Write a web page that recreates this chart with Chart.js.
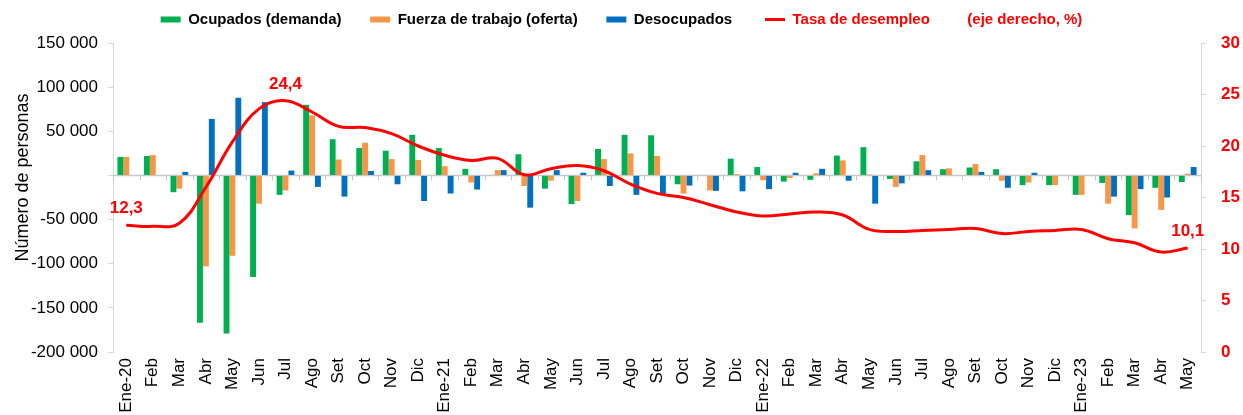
<!DOCTYPE html>
<html>
<head>
<meta charset="utf-8">
<script src="https://cdn.jsdelivr.net/npm/chart.js@4.4.1/dist/chart.umd.min.js"></script>
<style>
  html, body { margin: 0; padding: 0; background: #ffffff; }
  #wrap { width: 1243px; height: 415px; }
</style>
</head>
<body>
<div id="wrap"><canvas id="c" width="1243" height="415"></canvas></div>
<script>
const categories = ['Ene-20','Feb','Mar','Abr','May','Jun','Jul','Ago','Set','Oct','Nov','Dic',
  'Ene-21','Feb','Mar','Abr','May','Jun','Jul','Ago','Set','Oct','Nov','Dic',
  'Ene-22','Feb','Mar','Abr','May','Jun','Jul','Ago','Set','Oct','Nov','Dic',
  'Ene-23','Feb','Mar','Abr','May'];

const ocupados = [21000, 22000, -19000, -167000, -179000, -115000, -22000, 80000, 41000, 31000,
  28000, 46000, 31000, 7500, 500, 24000, -15000, -32500, 30000, 46000,
  45500, -10000, 0, 19000, 9500, -7000, -5000, 22500, 32000, -4000,
  16000, 7000, 9000, 7000, -11000, -11000, -22000, -8500, -45000, -14000, -7500];

const fuerzaTrabajo = [21000, 23000, -15000, -103000, -91000, -32000, -17000, 68000, 18000, 37000,
  18500, 17500, 10500, -8000, 6000, -12000, -6000, -29000, 18500, 25000,
  22000, -20500, -17000, 1500, -5500, -3000, 2500, 17000, 1000, -13000,
  23000, 8000, 13000, -6000, -8000, -11000, -22000, -32000, -60000, -39000, 2000];

const desocupados = [0, 0, 4000, 64000, 88000, 83000, 5500, -13000, -24000, 5000,
  -10000, -29000, -20500, -16000, 6000, -36500, 6000, 3000, -12000, -22000,
  -22500, -11500, -17500, -18000, -15500, 3000, 7500, -6000, -32000, -9000,
  6000, 0, 4000, -14000, 3000, 0, 0, -24000, -15500, -25000, 9500];

const tasaDesempleo = [12.3, 12.2, 12.5, 16.0, 20.4, 23.6, 24.4, 23.3, 21.9, 21.8,
  21.2, 20.0, 19.1, 18.6, 18.8, 17.2, 17.8, 18.1, 17.6, 16.3,
  15.4, 15.0, 14.3, 13.6, 13.2, 13.4, 13.6, 13.3, 11.9, 11.7,
  11.8, 11.9, 12.0, 11.5, 11.7, 11.8, 11.9, 11.0, 10.6, 9.7, 10.1];

const leftTicks = { min: -200000, max: 150000, step: 50000 };
const rightTicks = { min: 0, max: 30, step: 5 };
const labelledPoints = [0, 6, 40]; // indices of the rate values that carry a label

const GREEN = '#00B050', ORANGE = '#F79646', BLUE = '#0070C0', RED = '#FF0000';
const AXIS_GREY = '#d9d9d9';
const NB = '\u00A0';
const sp = n => NB.repeat(n);

function fmtThousands(v) {
  if (v === 0) return '';
  const s = String(Math.abs(v)).replace(/\B(?=(\d{3})+(?!\d))/g, ' ');
  return (v < 0 ? '-' : '') + s;
}

const overlayPlugin = {
  id: 'overlay',
  beforeDatasetsDraw(chart) {
    const { ctx, chartArea, scales } = chart;
    const y0 = scales.y.getPixelForValue(0);
    ctx.save();
    ctx.strokeStyle = '#c8c8c8';
    ctx.lineWidth = 1.5;
    ctx.beginPath();
    ctx.moveTo(chartArea.left, y0);
    ctx.lineTo(chartArea.right, y0);
    ctx.stroke();
    // category boundary tick marks on the zero line
    ctx.lineWidth = 1;
    const xs = scales.x;
    const n = categories.length;
    const step = xs.getPixelForValue(1) - xs.getPixelForValue(0);
    for (let i = 0; i <= n; i++) {
      const x = (i < n ? xs.getPixelForValue(i) : xs.getPixelForValue(n - 1) + step) - step / 2;
      ctx.beginPath();
      ctx.moveTo(Math.round(x) + 0.5, y0);
      ctx.lineTo(Math.round(x) + 0.5, y0 + 5);
      ctx.stroke();
    }
    ctx.restore();
  },
  afterDatasetsDraw(chart) {
    const { ctx, scales } = chart;
    ctx.save();
    ctx.fillStyle = RED;
    ctx.font = 'bold 17px "Liberation Sans", Arial, sans-serif';
    ctx.textAlign = 'center';
    ctx.textBaseline = 'bottom';
    labelledPoints.forEach(i => {
      const x = scales.x.getPixelForValue(i);
      const y = scales.y2.getPixelForValue(tasaDesempleo[i]);
      ctx.fillText(tasaDesempleo[i].toFixed(1).replace('.', ','), x, y - 8);
    });
    ctx.restore();
  }
};

new Chart(document.getElementById('c'), {
  type: 'bar',
  data: {
    labels: categories,
    datasets: [
      { label: 'Ocupados (demanda)', data: ocupados, backgroundColor: GREEN, yAxisID: 'y', order: 1,
        categoryPercentage: 0.667, barPercentage: 1.0 },
      { label: 'Fuerza de trabajo (oferta)', data: fuerzaTrabajo, backgroundColor: ORANGE, yAxisID: 'y', order: 1,
        categoryPercentage: 0.667, barPercentage: 1.0 },
      { label: 'Desocupados', data: desocupados, backgroundColor: BLUE, yAxisID: 'y', order: 1,
        categoryPercentage: 0.667, barPercentage: 1.0 },
      { type: 'line', label: 'Tasa de desempleo', data: tasaDesempleo, borderColor: RED, backgroundColor: RED,
        borderWidth: 3, pointRadius: 0, tension: 0.4, yAxisID: 'y2', order: 0, fill: false }
    ]
  },
  options: {
    responsive: false,
    animation: false,
    devicePixelRatio: 1,
    layout: { padding: { top: 0, bottom: 0, left: 0, right: 0 } },
    plugins: {
      tooltip: { enabled: false },
      title: { display: true, text: '', weight: 500, padding: 0, font: { size: 6, lineHeight: 1 } },
      legend: {
        position: 'top',
        weight: 1000,
        labels: {
          usePointStyle: true,
          pointStyleWidth: 20,
          boxHeight: 6,
          padding: 12,
          font: { family: '"Liberation Sans", Arial, sans-serif', size: 15, weight: 'bold' },
          generateLabels() {
            return [
              { text: 'Ocupados (demanda)' + sp(4), fillStyle: GREEN, strokeStyle: GREEN, lineWidth: 0, pointStyle: 'rect', fontColor: '#000', datasetIndex: 0 },
              { text: 'Fuerza de trabajo (oferta)' + sp(4), fillStyle: ORANGE, strokeStyle: ORANGE, lineWidth: 0, pointStyle: 'rect', fontColor: '#000', datasetIndex: 1 },
              { text: 'Desocupados' + sp(5), fillStyle: BLUE, strokeStyle: BLUE, lineWidth: 0, pointStyle: 'rect', fontColor: '#000', datasetIndex: 2 },
              { text: 'Tasa de desempleo' + sp(9) + '(eje derecho, %)', fillStyle: RED, strokeStyle: RED, lineWidth: 3, pointStyle: 'line', fontColor: RED, datasetIndex: 3 }
            ];
          }
        }
      }
    },
    scales: {
      x: {
        offset: true,
        grid: { display: false, drawTicks: false },
        border: { display: false },
        ticks: {
          autoSkip: false, minRotation: 90, maxRotation: 90, padding: 6,
          color: '#000', font: { family: '"Liberation Sans", Arial, sans-serif', size: 17 }
        },
        afterFit(scale) { scale.height = 63; }
      },
      y: {
        position: 'left',
        min: leftTicks.min, max: leftTicks.max,
        grid: { drawOnChartArea: false, tickLength: 5, color: AXIS_GREY },
        border: { display: true, color: AXIS_GREY },
        ticks: {
          stepSize: leftTicks.step, padding: 10, color: '#000',
          font: { family: '"Liberation Sans", Arial, sans-serif', size: 17 },
          callback: v => fmtThousands(v)
        },
        title: {
          display: true, text: sp(8) + 'Número de personas', color: '#000',
          font: { family: '"Liberation Sans", Arial, sans-serif', size: 18 },
          padding: { top: 12, bottom: 0 }
        },
        afterFit(scale) { scale.width = 113; }
      },
      y2: {
        position: 'right',
        min: rightTicks.min, max: rightTicks.max,
        grid: { drawOnChartArea: false, tickLength: 5, color: AXIS_GREY },
        border: { display: true, color: AXIS_GREY },
        ticks: {
          stepSize: rightTicks.step, padding: 15, color: RED,
          font: { family: '"Liberation Sans", Arial, sans-serif', size: 17, weight: 'bold' }
        },
        afterFit(scale) { scale.width = 42; }
      }
    }
  },
  plugins: [overlayPlugin]
});
</script>
</body>
</html>
